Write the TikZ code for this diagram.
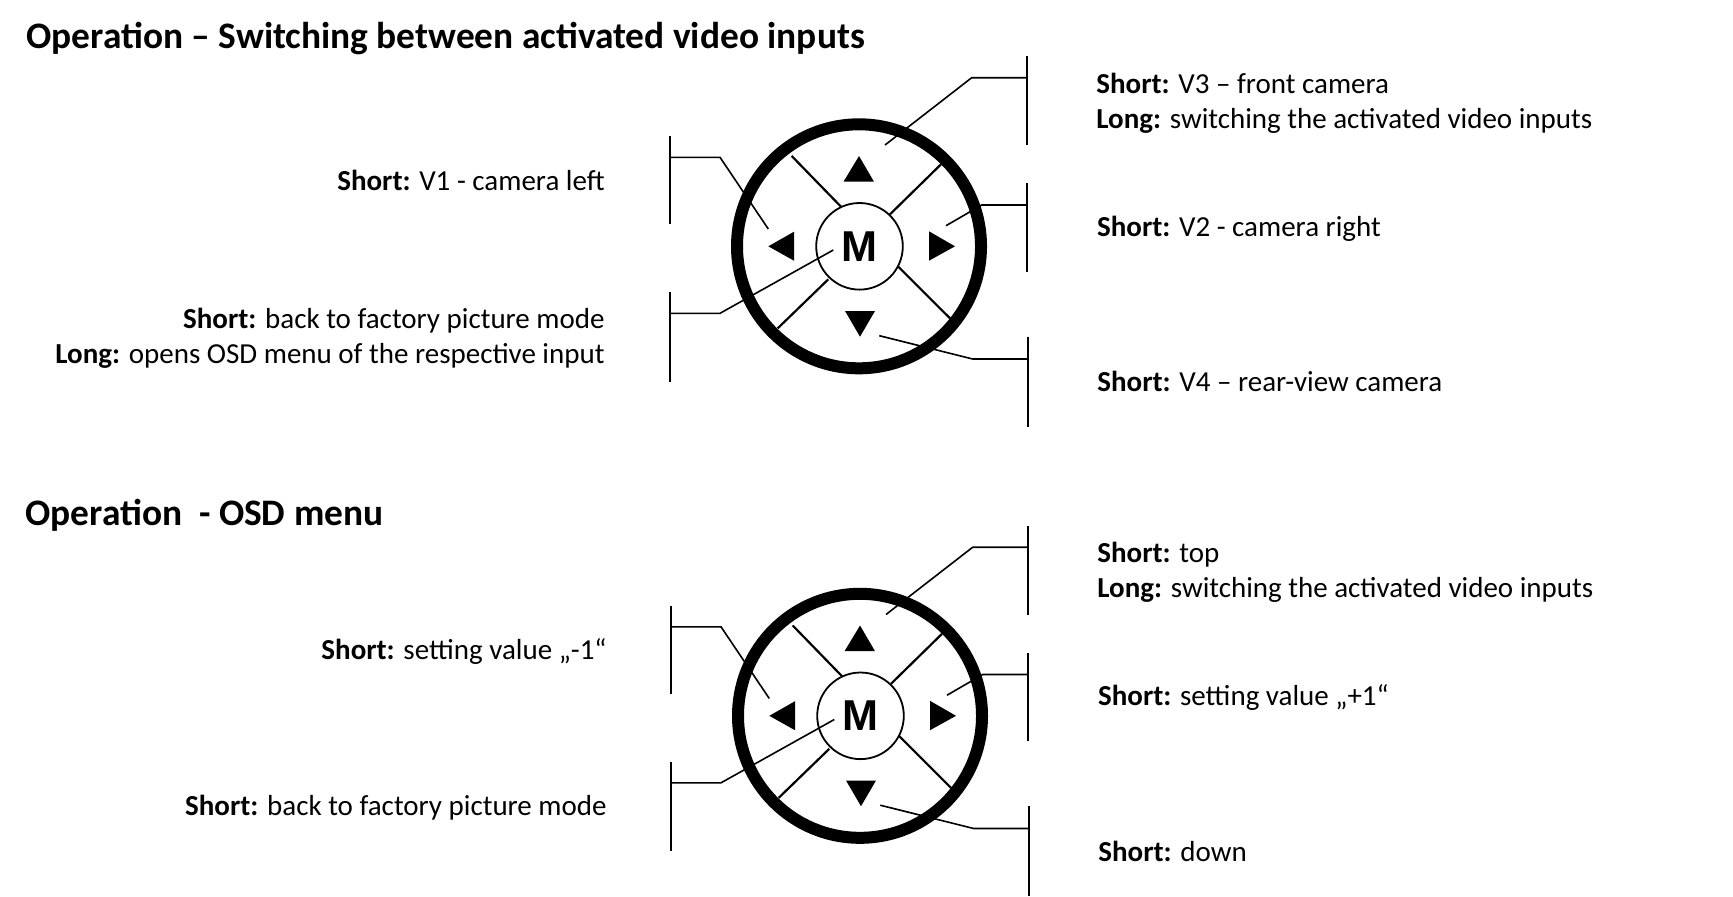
\documentclass[tikz,border=0pt]{standalone}
\usepackage{fontspec}
\setmainfont{Carlito}
\newfontfamily\mfont{Liberation Sans}
\tikzset{
  body/.style={inner sep=0pt, font=\fontsize{14.5pt}{17.5pt}\selectfont},
  heading/.style={inner sep=0pt, font=\fontsize{18.7pt}{22pt}\selectfont\bfseries},
  ring/.style={circle, draw, line width=6pt, inner sep=0pt, minimum size=122pt},
  mbtn/.style={circle, draw, line width=0.9pt, inner sep=0pt, minimum size=43.3pt, fill=white,
    font=\mfont\bfseries\fontsize{21.6pt}{24pt}\selectfont},
  divider/.style={line width=1.1pt},
  leader/.style={line width=0.8pt},
  bar/.style={line width=1pt},
  arrowhead/.style={fill=black}
}
\newcommand\padfig[1]{%
  \node[ring] (#1ring) at (0,0) {};
  \draw[divider] (-67.3,-90.3) coordinate (#1ula) -- (-18,-39.6) coordinate (#1ulb);
  \draw[divider] (82,-82) coordinate (#1ura) -- (31,-32) coordinate (#1urb);
  \draw[divider] (-81.3,82) coordinate (#1lla) -- (-30.7,33) coordinate (#1llb);
  \draw[divider] (91,72) coordinate (#1lra) -- (39.3,20.4) coordinate (#1lrb);
  \node[mbtn] (#1m) at (0.5,0) {M};
  \fill[arrowhead] (0,-90.3) -- (-15.5,-64.6) -- (15,-64.6) -- cycle;
  \fill[arrowhead] (1,90.4) -- (-14,64.7) -- (16,64.7) -- cycle;
  \fill[arrowhead] (-90.7,0) -- (-65,-14.6) -- (-65,14.4) -- cycle;
  \fill[arrowhead] (96,0) -- (70,-15) -- (70,14.4) -- cycle;
  % bars
  \coordinate (#1barLt) at (-189,-110.3); \coordinate (#1barLb) at (-189,-22.3);
  \coordinate (#1barMt) at (-189,46);     \coordinate (#1barMb) at (-189,135.4);
  \coordinate (#1barUt) at (167.7,-190.3);\coordinate (#1barUb) at (167.7,-101.3);
  \coordinate (#1barRt) at (167.7,-63);   \coordinate (#1barRb) at (167.7,25.4);
  \coordinate (#1barDt) at (168.7,90.4);  \coordinate (#1barDb) at (168.7,180.4);
  \draw[bar] (#1barLt) -- (#1barLb);
  \draw[bar] (#1barMt) -- (#1barMb);
  \draw[bar] (#1barUt) -- (#1barUb);
  \draw[bar] (#1barRt) -- (#1barRb);
  \draw[bar] (#1barDt) -- (#1barDb);
  % leaders
  \coordinate (#1tipL) at (-90.7,-17.3);
  \coordinate (#1tipM) at (-25.7,3.7);
  \coordinate (#1tipU) at (26,-101.3);
  \coordinate (#1tipR) at (87,-20.6);
  \coordinate (#1tipD) at (20.3,89.4);
  \draw[leader] (#1barLt) ++(0,21.3) coordinate (#1jL) -- ++(50,0) -- (#1tipL);
  \draw[leader] (#1barMt) ++(0,21) coordinate (#1jM) -- ++(50,0) -- (#1tipM);
  \draw[leader] (#1barUt) ++(0,21.7) coordinate (#1jU) -- ++(-55,0) -- (#1tipU);
  \draw[leader] (#1barRt) ++(0,21.7) coordinate (#1jR) -- ++(-45,0) -- (#1tipR);
  \draw[leader] (#1barDt) ++(0,22.3) coordinate (#1jD) -- ++(-55,0) -- (#1tipD);
}
\begin{document}
\begin{tikzpicture}[x=0.5pt,y=-0.5pt]
  \useasboundingbox[fill=white] (0,0) rectangle (1733,896);
  % ---------- top section ----------
  \node[heading, anchor=base west] (t1) at (26,48) {Operation – Switching between activated video inputs};
  \begin{scope}[shift={(859,246.3)}]
    \padfig{a}
  \end{scope}
  \node[body, anchor=base east] (a1) at (605,190) {\textbf{Short:} V1 - camera left};
  \node[body, anchor=base east] (a2) at (605,328.3) {\textbf{Short:} back to factory picture mode};
  \node[body, anchor=base east] (a3) at (605,363.3) {\textbf{Long:} opens OSD menu of the respective input};
  \node[body, anchor=base west] (a4) at (1096,93.3) {\textbf{Short:} V3 – front camera};
  \node[body, anchor=base west] (a5) at (1096,128.3) {\textbf{Long:} switching the activated video inputs};
  \node[body, anchor=base west] (a6) at (1096.7,236) {\textbf{Short:} V2 - camera right};
  \node[body, anchor=base west] (a7) at (1097,391.7) {\textbf{Short:} V4 – rear-view camera};
  % ---------- bottom section ----------
  \node[heading, anchor=base west] (t2) at (25,525.7) {Operation\ \ - OSD menu};
  \begin{scope}[shift={(860,715.8)}]
    \padfig{b}
  \end{scope}
  \node[body, anchor=base east] (b1) at (607,659.5) {\textbf{Short:} setting value „-1“};
  \node[body, anchor=base east] (b2) at (607,815) {\textbf{Short:} back to factory picture mode};
  \node[body, anchor=base west] (b4) at (1097,562.8) {\textbf{Short:} top};
  \node[body, anchor=base west] (b5) at (1097,597.8) {\textbf{Long:} switching the activated video inputs};
  \node[body, anchor=base west] (b6) at (1097.7,705.5) {\textbf{Short:} setting value „+1“};
  \node[body, anchor=base west] (b7) at (1098,861) {\textbf{Short:} down};
\end{tikzpicture}
\end{document}
